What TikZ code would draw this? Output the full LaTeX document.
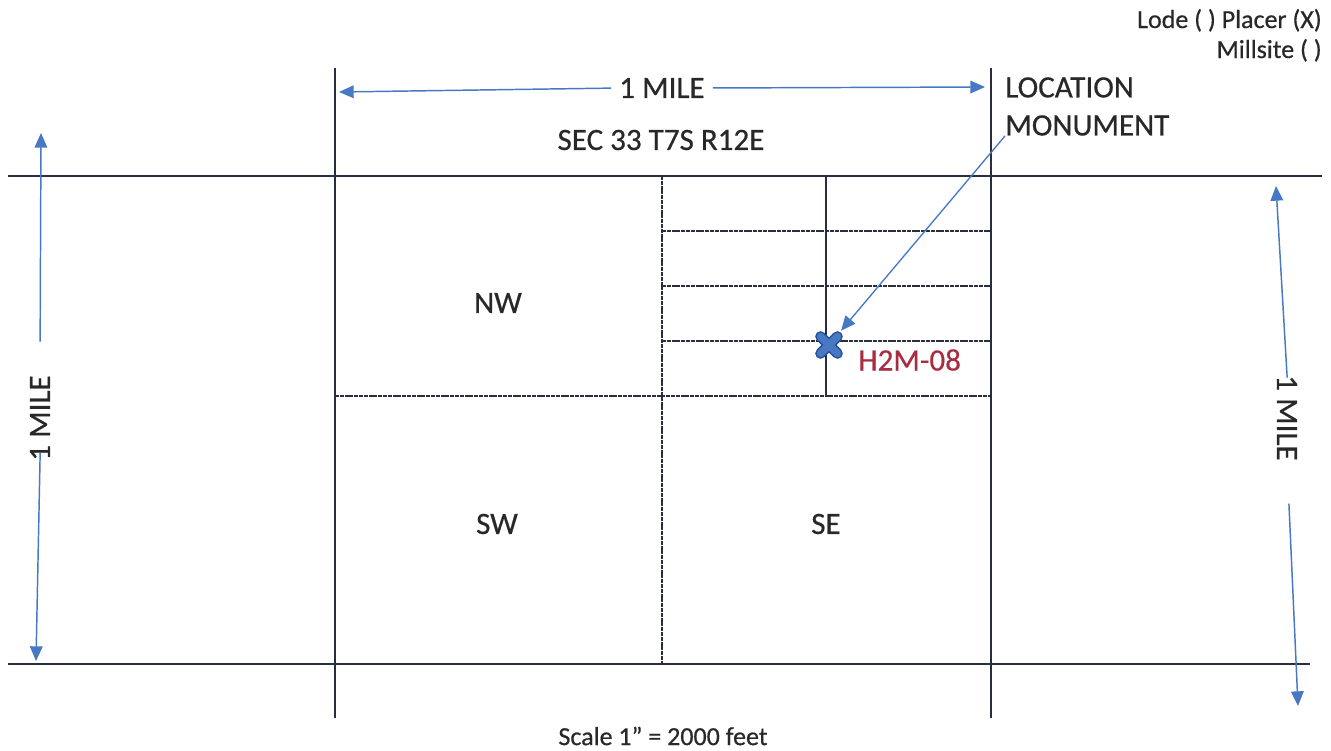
\documentclass[tikz,border=0pt]{standalone}
\usepackage{fontspec}
\setmainfont[FakeBold=0.5]{Carlito}
\usetikzlibrary{arrows.meta}
\definecolor{ink}{RGB}{40,46,62}
\definecolor{dimblue}{RGB}{70,120,195}
\definecolor{xedge}{RGB}{40,80,150}
\definecolor{tagred}{RGB}{168,45,65}
\definecolor{txt}{RGB}{40,40,40}
\begin{document}
\begin{tikzpicture}[x=0.75pt,y=-0.75pt,
  grid/.style={ink, line width=1.1pt},
  subgrid/.style={ink, line width=1pt, dash pattern=on 3pt off 0.6pt},
  dim/.style={dimblue, line width=1.1pt, -{Triangle[length=11pt,width=9.5pt]}},
  lbl/.style={txt, font=\fontsize{23.3}{28.5}\selectfont, inner sep=0pt},
  small/.style={txt, font=\fontsize{19.5}{24}\selectfont, inner sep=0pt}]
\useasboundingbox (0,0) rectangle (1331,750);
\fill[white] (0,0) rectangle (1331,750);

% main lines
\draw[grid] (8,176) -- (1322,176);
\draw[grid] (8,664) -- (1310,664);
\draw[grid] (335,68) -- (335,718);
\draw[grid] (991,68) -- (991,718);
% quarter and subdivision lines
\draw[subgrid] (662,176) -- (662,664);
\draw[grid] (826,176) -- (826,396);
\draw[subgrid] (335,396) -- (991,396);
\foreach \yy in {231,286,341} \draw[subgrid] (662,\yy) -- (991,\yy);

% labels
\node[lbl] (sec) at (661,140) {SEC 33 T7S R12E};
\node[lbl] (nw) at (498,303) {NW};
\node[lbl] (sw) at (497,524) {SW};
\node[lbl] (se) at (826,524) {SE};
\node[small] (scale) at (663,736) {Scale 1” = 2000 feet};
\node[small, anchor=base east] (lode) at (1322,28) {Lode ( ) Placer (X)};
\node[small, anchor=base east] (mill) at (1322,58) {Millsite ( )};

% top dimension
\node[lbl] (mileT) at (662,88) {1 MILE};
\coordinate (tL) at (339,92);
\coordinate (tR) at (985,87);
\draw[dim, shorten <=6pt] (mileT.west) -- (tL);
\draw[dim, shorten <=6pt] (mileT.east) -- (tR);

% left dimension
\node[lbl, rotate=90] (mileL) at (40,418) {1 MILE};
\coordinate (lT) at (41,133);
\coordinate (lB) at (36,661);
\draw[dim, shorten <=25pt] (mileL.east) -- (lT);
\draw[dim, shorten <=-6pt] (mileL.west) -- (lB);

% right dimension
\node[lbl, rotate=-90] (mileR) at (1287,418) {1 MILE};
\coordinate (rT) at (1276,186);
\coordinate (rB) at (1298,706);
\draw[dim, shorten <=-2pt] (mileR.west) -- (rT);
\draw[dim, shorten <=32pt] (mileR.east) -- (rB);

% location monument
\node[lbl, align=left, anchor=north west] (loc) at (1005,77) {LOCATION\\MONUMENT};
\coordinate (mon) at (829,345);
\draw[dim, line width=1pt, shorten >=14pt] (loc.south west) -- (mon);
\begin{scope}[shift={(829,345)}]
  \draw[xedge, line width=8pt, line cap=round] (-8.5,-8.5) -- (8.5,8.5) (-8.5,8.5) -- (8.5,-8.5);
  \draw[dimblue, line width=5.6pt, line cap=round] (-8.5,-8.5) -- (8.5,8.5) (-8.5,8.5) -- (8.5,-8.5);
\end{scope}
\node[lbl, text=tagred, anchor=west] (tag) at (858,360) {H2M-08};
\end{tikzpicture}
\end{document}
